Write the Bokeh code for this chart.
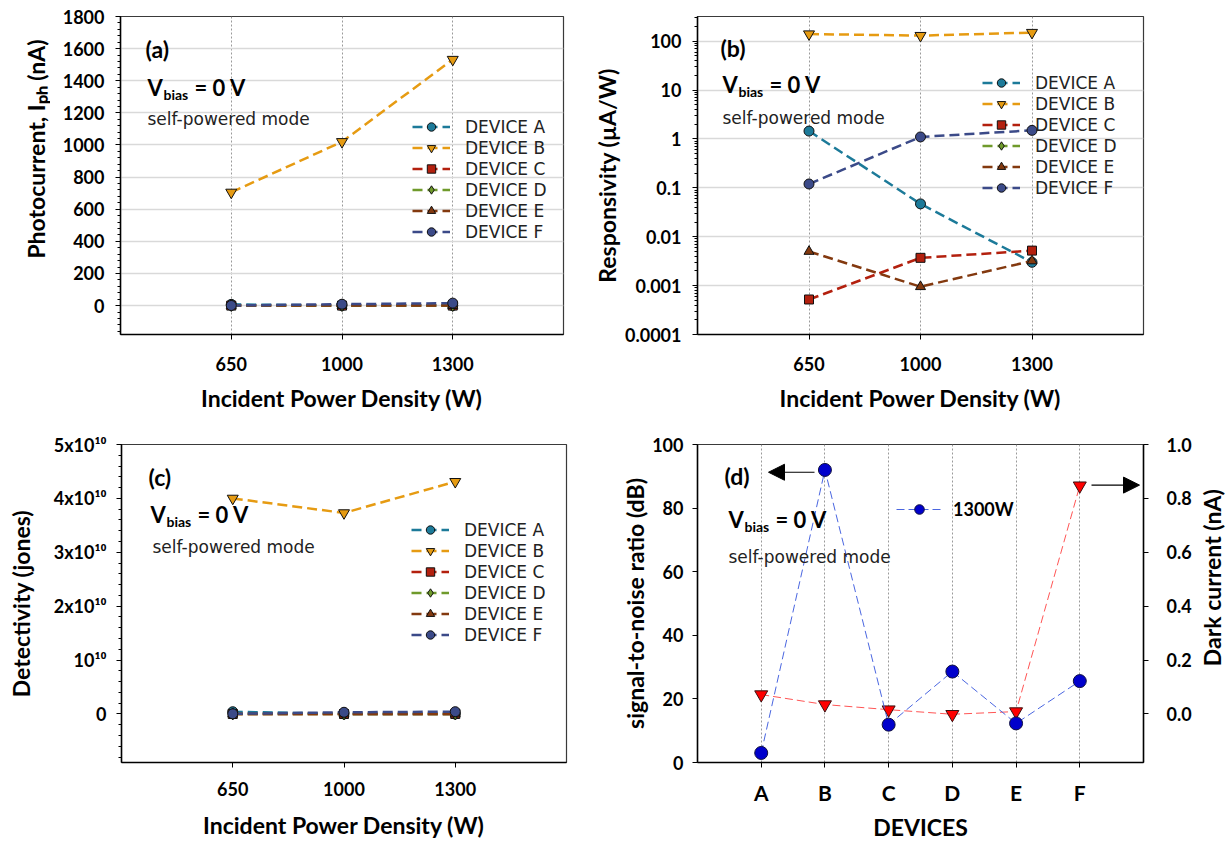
import math
import numpy as np
from bokeh.plotting import figure
from bokeh.layouts import row, column
from bokeh.models import (ColumnDataSource, Range1d, FixedTicker, SingleIntervalTicker,
                          LinearAxis, Legend, LegendItem, Label, Arrow, NormalHead,
                          PrintfTickFormatter)
from bokeh.embed import file_html
from bokeh.resources import INLINE

NAN = float("nan")

# ---------------- data ----------------
powers = ["650", "1000", "1300"]                 # incident power density (W)
device_names = ["DEVICE A", "DEVICE B", "DEVICE C", "DEVICE D", "DEVICE E", "DEVICE F"]

# (a) photocurrent Iph (nA)
iph_A = [7.6, 0.4, 0.03]
iph_B = [705, 1020, 1532]
iph_C = [0.003, 0.03, 0.05]
iph_D = [0.2, 0.3, 0.4]
iph_E = [0.025, 0.008, 0.033]
iph_F = [0.6, 8.6, 15.3]

# (b) responsivity (uA/W)
resp_A = [1.45, 0.047, 0.0030]
resp_B = [140, 130, 150]
resp_C = [0.00052, 0.0037, 0.0052]
resp_D = [NAN, NAN, NAN]
resp_E = [0.0050, 0.00095, 0.0032]
resp_F = [0.12, 1.1, 1.5]

# (c) detectivity (jones)
det_A = [4.2e8, 1.3e7, 8.6e5]
det_B = [4.0e10, 3.73e10, 4.31e10]
det_C = [1.5e5, 1.1e6, 1.5e6]
det_D = [5e6, 6e6, 7e6]
det_E = [1.4e6, 2.7e5, 9.2e5]
det_F = [3.4e7, 3.2e8, 4.3e8]

# (d) per device
device_letters = ["A", "B", "C", "D", "E", "F"]
snr_1300 = [3.0, 92.0, 11.9, 28.6, 12.3, 25.6]              # dB (left axis)
dark_current = [0.072, 0.035, 0.016, -0.001, 0.009, 0.847]  # nA (right axis)

# tick label texts
log_ticks = [1e-4, 1e-3, 1e-2, 0.1, 1, 10, 100]
log_tick_text = ["0.0001", "0.001", "0.01", "0.1", "1", "10", "100"]
det_ticks = [0, 10**10, 2 * 10**10, 3 * 10**10, 4 * 10**10, 5 * 10**10]
det_tick_text = ["0", "10\u00b9\u2070", "2x10\u00b9\u2070", "3x10\u00b9\u2070",
                 "4x10\u00b9\u2070", "5x10\u00b9\u2070"]

# ---------------- styles ----------------
colors = ["#1c7a99", "#e69b12", "#b3200e", "#6f9a2b", "#83390f", "#3b4a88"]
markers = ["circle", "inverted_triangle", "square", "diamond", "triangle", "circle"]
msizes = [10, 11, 9, 12, 10, 10]
BOLD = "Lato"
REG = "DejaVu Sans"

xpos = [i + 1 for i in range(len(powers))]
dpos = [i + 1 for i in range(len(device_letters))]


class Geo:
    def __init__(self, L, R, T, B, xr, yr, log=False):
        self.L, self.R, self.T, self.B = L, R, T, B
        self.xr, self.yr, self.log = xr, yr, log

    def x(self, sx):
        return self.xr[0] + (sx - self.L) / (self.R - self.L) * (self.xr[1] - self.xr[0])

    def y(self, sy):
        f = (self.B - sy) / (self.B - self.T)
        if self.log:
            a, b = math.log10(self.yr[0]), math.log10(self.yr[1])
            return 10 ** (a + f * (b - a))
        return self.yr[0] + f * (self.yr[1] - self.yr[0])


def style_axis(ax, label_size="18px", standoff=12):
    ax.axis_line_width = 1.5
    ax.axis_line_color = "black"
    ax.major_tick_in = 0
    ax.major_tick_out = 5
    ax.major_tick_line_width = 1
    ax.major_tick_line_color = "black"
    ax.minor_tick_in = 0
    ax.minor_tick_out = 3
    ax.minor_tick_line_width = 1
    ax.minor_tick_line_color = "black"
    ax.major_label_text_font = BOLD
    ax.major_label_text_font_style = "bold"
    ax.major_label_text_font_size = label_size
    ax.major_label_text_color = "black"
    ax.major_label_standoff = standoff
    ax.axis_label_text_font = BOLD
    ax.axis_label_text_font_style = "bold"
    ax.axis_label_text_font_size = "23px"
    ax.axis_label_text_color = "black"


def base_fig(w, h, borders, g, ytype="linear"):
    bl, br, bt, bb = borders
    p = figure(width=w, height=h, x_range=Range1d(*g.xr), y_range=Range1d(*g.yr),
               y_axis_type=ytype, output_backend="svg", toolbar_location=None,
               min_border_left=bl, min_border_right=br, min_border_top=bt, min_border_bottom=bb)
    p.outline_line_color = "#3a3a3a"
    p.outline_line_width = 1.2
    p.background_fill_color = "white"
    p.border_fill_color = "white"
    for ax in p.axis:
        style_axis(ax)
    return p


def strip_fig(w, h, g):
    """Blank narrow figure whose whole canvas is its frame (holds side titles)."""
    p = figure(width=w, height=h, x_range=Range1d(*g.xr), y_range=Range1d(*g.yr),
               x_axis_location=None, y_axis_location=None, output_backend="svg",
               toolbar_location=None, min_border=0)
    p.outline_line_color = None
    p.grid.grid_line_color = None
    p.background_fill_color = "white"
    p.border_fill_color = "white"
    return p


def put(p, g, sx, sy, text, size, font=BOLD, style="bold", align="left",
        baseline="alphabetic", angle=0.0, color="black"):
    p.add_layout(Label(x=g.x(sx), y=g.y(sy), text=text, text_font=font,
                       text_font_size=f"{size}px", text_font_style=style,
                       text_align=align, text_baseline=baseline, angle=angle,
                       text_color=color))


def vbias(p, g, sx, sy):
    put(p, g, sx, sy, "V", 22)
    put(p, g, sx + 16, sy + 7, "bias", 14)
    put(p, g, sx + 47, sy, "= 0 V", 22)


def add_series(p, series):
    items = []
    for name, ys, col, mk, sz in zip(device_names, series, colors, markers, msizes):
        src = ColumnDataSource(dict(x=np.array(xpos, dtype=float), y=np.array(ys, dtype=float)))
        ln = p.line("x", "y", source=src, line_color=col, line_width=2.5, line_dash="10 5")
        sc = p.scatter("x", "y", source=src, marker=mk, size=sz, fill_color=col,
                       line_color="#111111", line_width=1)
        items.append(LegendItem(label=name, renderers=[ln, sc]))
    return items


def add_legend(p, items, loc):
    leg = Legend(items=items, location=loc, orientation="vertical",
                 glyph_width=38, glyph_height=21, label_height=21, spacing=0,
                 padding=0, margin=0, label_standoff=15,
                 label_text_font=REG, label_text_font_size="17px", label_text_color="#222222",
                 border_line_alpha=0, background_fill_alpha=0)
    p.add_layout(leg)


def x_power_axis(p, s1, s2):
    p.xaxis.ticker = FixedTicker(ticks=xpos, minor_ticks=[])
    p.xaxis.major_label_overrides = {xp: t for xp, t in zip(xpos, powers)}
    p.xaxis.axis_label = "Incident Power Density (W)"
    p.xaxis.major_label_standoff = s1
    p.xaxis.axis_label_standoff = s2


H1, H2 = 420, 425   # row heights
SA = 50             # strip holding the (a) y title
SD = 30             # strip holding the (d) right title
W1 = 590            # left column width
W2 = 1225 - W1      # right column width
rot = math.pi / 2

# ============ strip with the (a) y-axis title ============
GSA = Geo(0, SA, 0, H1, (0, SA), (0, H1))
sa = strip_fig(SA, H1, GSA)
put(sa, GSA, 35, 175, "Photocurrent, I\u209a\u2095 (nA)", 23, align="center",
    baseline="middle", angle=rot)

# ================= (a) =================
GA = Geo(120, 563, 16, 334, (0, 4), (-180, 1800))
pa = base_fig(W1 - SA, H1, (120 - SA, W1 - 563, 16, H1 - 334), GA)
x_power_axis(pa, 17, 10)
pa.yaxis.ticker = SingleIntervalTicker(interval=200, num_minor_ticks=5)
pa.yaxis.major_label_standoff = 11
pa.xgrid.grid_line_color = "#9a9a9a"
pa.xgrid.grid_line_dash = "2 2"
pa.xgrid.grid_line_width = 1
pa.ygrid.grid_line_color = "#d9d9d9"
pa.ygrid.grid_line_width = 1.5
items = add_series(pa, [iph_A, iph_B, iph_C, iph_D, iph_E, iph_F])
add_legend(pa, items, (292, 92))
put(pa, GA, 145, 48, "(a)", 23, baseline="middle")
vbias(pa, GA, 147, 87)
put(pa, GA, 147, 118, "self-powered mode", 17, font=REG, style="normal", color="#222222")

# ================= (b) =================
GB = Geo(697, 1143, 13, 334, (0, 4), (1e-4, 320), log=True)
pb = base_fig(W2, H1, (697 - W1, W1 + W2 - 1143, 13, H1 - 334), GB, ytype="log")
x_power_axis(pb, 17, 10)
log_minor = [m * 10.0 ** e for e in range(-4, 3) for m in range(2, 10) if m * 10.0 ** e < 320]
pb.yaxis.ticker = FixedTicker(ticks=log_ticks, minor_ticks=log_minor)
pb.yaxis.major_label_overrides = {t: s for t, s in zip(log_ticks, log_tick_text)}
pb.yaxis.major_label_standoff = 11
pb.yaxis.axis_label = "Responsivity (\u00b5A/W)"
pb.yaxis.axis_label_standoff = 1
pb.xgrid.grid_line_color = "#9a9a9a"
pb.xgrid.grid_line_dash = "2 2"
pb.xgrid.grid_line_width = 1
pb.ygrid.grid_line_color = "#d9d9d9"
pb.ygrid.grid_line_width = 1.5
items = add_series(pb, [resp_A, resp_B, resp_C, resp_D, resp_E, resp_F])
add_legend(pb, items, (285, 136))
put(pb, GB, 720, 45, "(b)", 23, baseline="middle")
vbias(pb, GB, 722, 82)
put(pb, GB, 722, 115, "self-powered mode", 17, font=REG, style="normal", color="#222222")

# ================= (c) =================
GC = Geo(121, 566, 444, 766, (0, 4), (-0.9e10, 5e10))
pc = base_fig(W1, H2, (121, W1 - 566, 444 - H1, H1 + H2 - 766), GC)
x_power_axis(pc, 14, 12)
pc.yaxis.ticker = SingleIntervalTicker(interval=10**10, num_minor_ticks=5)
pc.yaxis.major_label_overrides = {t: s for t, s in zip(det_ticks, det_tick_text)}
pc.yaxis.major_label_standoff = 10
pc.yaxis.axis_label = "Detectivity (jones)"
pc.yaxis.axis_label_standoff = 16
pc.xgrid.grid_line_color = None
pc.ygrid.grid_line_color = None
items = add_series(pc, [det_A, det_B, det_C, det_D, det_E, det_F])
add_legend(pc, items, (290, 117))
put(pc, GC, 148, 477, "(c)", 23, baseline="middle")
vbias(pc, GC, 150, 515)
put(pc, GC, 152, 548, "self-powered mode", 17, font=REG, style="normal", color="#222222")

# ================= (d) =================
GD = Geo(697, 1143, 441, 762, (0, 7), (0, 100))
WD = W2 - SD
pd = base_fig(WD, H2, (697 - W1, W1 + WD - 1143, 441 - H1, H1 + H2 - 762), GD)
pd.extra_y_ranges = {"dark": Range1d(-0.18, 1.0)}
pd.xaxis.ticker = FixedTicker(ticks=dpos, minor_ticks=[])
pd.xaxis.major_label_overrides = {xp: t for xp, t in zip(dpos, device_letters)}
pd.xaxis.major_label_text_font_size = "21px"
pd.xaxis.major_label_standoff = 12
pd.xaxis.axis_label = "DEVICES"
pd.xaxis.axis_label_standoff = 5
pd.yaxis.ticker = FixedTicker(ticks=[0, 20, 40, 60, 80, 100], minor_ticks=[])
pd.yaxis.major_label_standoff = 9
pd.yaxis.axis_label = "signal-to-noise ratio (dB)"
pd.yaxis.axis_label_standoff = 0
rax = LinearAxis(y_range_name="dark",
                 ticker=FixedTicker(ticks=[0, 0.2, 0.4, 0.6, 0.8, 1.0], minor_ticks=[]),
                 formatter=PrintfTickFormatter(format="%.1f"))
style_axis(rax, standoff=18)
pd.add_layout(rax, "right")
pd.xgrid.grid_line_color = "#9a9a9a"
pd.xgrid.grid_line_dash = "2 2"
pd.xgrid.grid_line_width = 1
pd.ygrid.grid_line_color = None

dsrc = ColumnDataSource(dict(x=dpos, snr=snr_1300, dark=dark_current))
pd.line("x", "dark", source=dsrc, y_range_name="dark", line_color="#ff5555",
        line_width=1, line_dash="8 4")
pd.scatter("x", "dark", source=dsrc, y_range_name="dark", marker="inverted_triangle",
           size=13, fill_color="#ff0000", line_color="#3a1010", line_width=1)
bl = pd.line("x", "snr", source=dsrc, line_color="#4a66e0", line_width=1, line_dash="8 4")
bs = pd.scatter("x", "snr", source=dsrc, marker="circle", size=13, fill_color="#0000cc",
                line_color="#101040", line_width=1)
legd = Legend(items=[LegendItem(label="1300W", renderers=[bl, bs])], location=(199, 241),
              glyph_width=46, glyph_height=24, label_height=24, spacing=0, padding=0,
              margin=0, label_standoff=11, label_text_font=BOLD, label_text_font_style="bold",
              label_text_font_size="18px", label_text_color="black",
              border_line_alpha=0, background_fill_alpha=0)
pd.add_layout(legd)
put(pd, GD, 724, 473, "(d)", 23, baseline="middle")
vbias(pd, GD, 728, 517)
put(pd, GD, 728, 555, "self-powered mode", 17, font=REG, style="normal", color="#222222")
pd.add_layout(Arrow(x_start=GD.x(814), y_start=GD.y(469), x_end=GD.x(768), y_end=GD.y(469),
                    line_color="black", line_width=1.2,
                    end=NormalHead(size=16, fill_color="black", line_color="black")))
pd.add_layout(Arrow(x_start=GD.x(1091), y_start=GD.y(482), x_end=GD.x(1139), y_end=GD.y(482),
                    line_color="black", line_width=1.2,
                    end=NormalHead(size=16, fill_color="black", line_color="black")))

# ============ strip with the (d) right-axis title (reads bottom to top) ============
GSD = Geo(1225 - SD, 1225, H1, H1 + H2, (0, SD), (0, H2))
sd = strip_fig(SD, H2, GSD)
put(sd, GSD, 1211, 598, "Dark current (nA)", 23, align="center", baseline="middle", angle=rot)

layout = column(row(sa, pa, pb), row(pc, pd, sd))
open("out.html", "w").write(file_html(layout, INLINE))
